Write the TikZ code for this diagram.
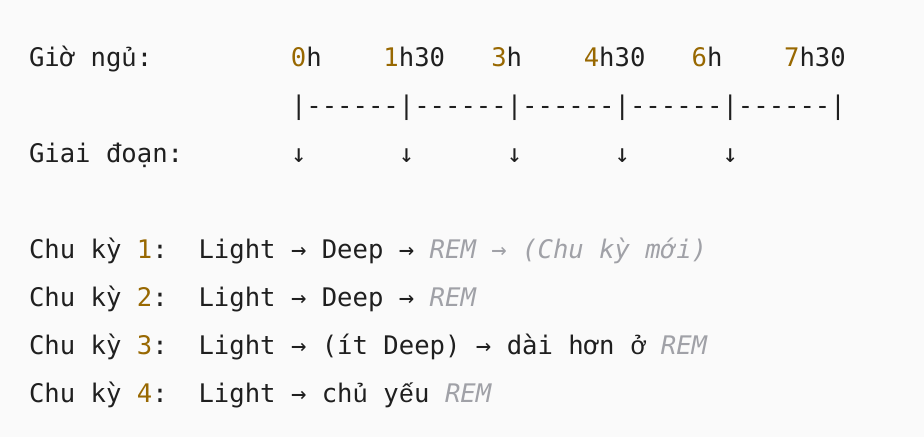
\documentclass[tikz,border=0pt]{standalone}
\usepackage{fontspec}
\setmonofont{DejaVu Sans Mono}
\newfontfamily\vimono{Liberation Mono}
\definecolor{bgc}{HTML}{FAFAFA}
\definecolor{txtc}{HTML}{1F1F1F}
\definecolor{numc}{HTML}{986801}
\definecolor{cmtc}{HTML}{A0A1A7}
\newcommand\nm[1]{\textcolor{numc}{#1}}
\newcommand\cmt[1]{\textcolor{cmtc}{\itshape #1}}
\newcommand\vi[1]{{\vimono #1}}
\tikzset{
  codeline/.style={anchor=base west, inner sep=0pt, outer sep=0pt, text=txtc,
    font=\ttfamily\fontsize{25.6}{30}\selectfont}
}
\begin{document}
\begin{tikzpicture}[x=1pt,y=-1pt]
\fill[bgc] (0,0) rectangle (924,437);
\useasboundingbox (0,0) rectangle (924,437);
\node[codeline] (l1) at (29,66) {Giờ~ng\vi{ủ}:~~~~~~~~~\nm{0}h~~~~\nm{1}h30~~~\nm{3}h~~~~\nm{4}h30~~~\nm{6}h~~~~\nm{7}h30};
\node[codeline] (l2) at (29,114) {~~~~~~~~~~~~~~~~~|------|------|------|------|------|};
\node[codeline] (l3) at (29,162) {Giai~đoạn:~~~~~~~↓~~~~~~↓~~~~~~↓~~~~~~↓~~~~~~↓};
\node[codeline] (c1) at (29,258) {Chu~kỳ~\nm{1}:~~Light~→~Deep~→~\cmt{REM~→~(Chu~kỳ~mới)}};
\node[codeline] (c2) at (29,306) {Chu~kỳ~\nm{2}:~~Light~→~Deep~→~\cmt{REM}};
\node[codeline] (c3) at (29,354) {Chu~kỳ~\nm{3}:~~Light~→~(ít~Deep)~→~dài~hơn~\vi{ở}~\cmt{REM}};
\node[codeline] (c4) at (29,402) {Chu~kỳ~\nm{4}:~~Light~→~ch\vi{ủ}~y\vi{ế}u~\cmt{REM}};
\end{tikzpicture}
\end{document}
